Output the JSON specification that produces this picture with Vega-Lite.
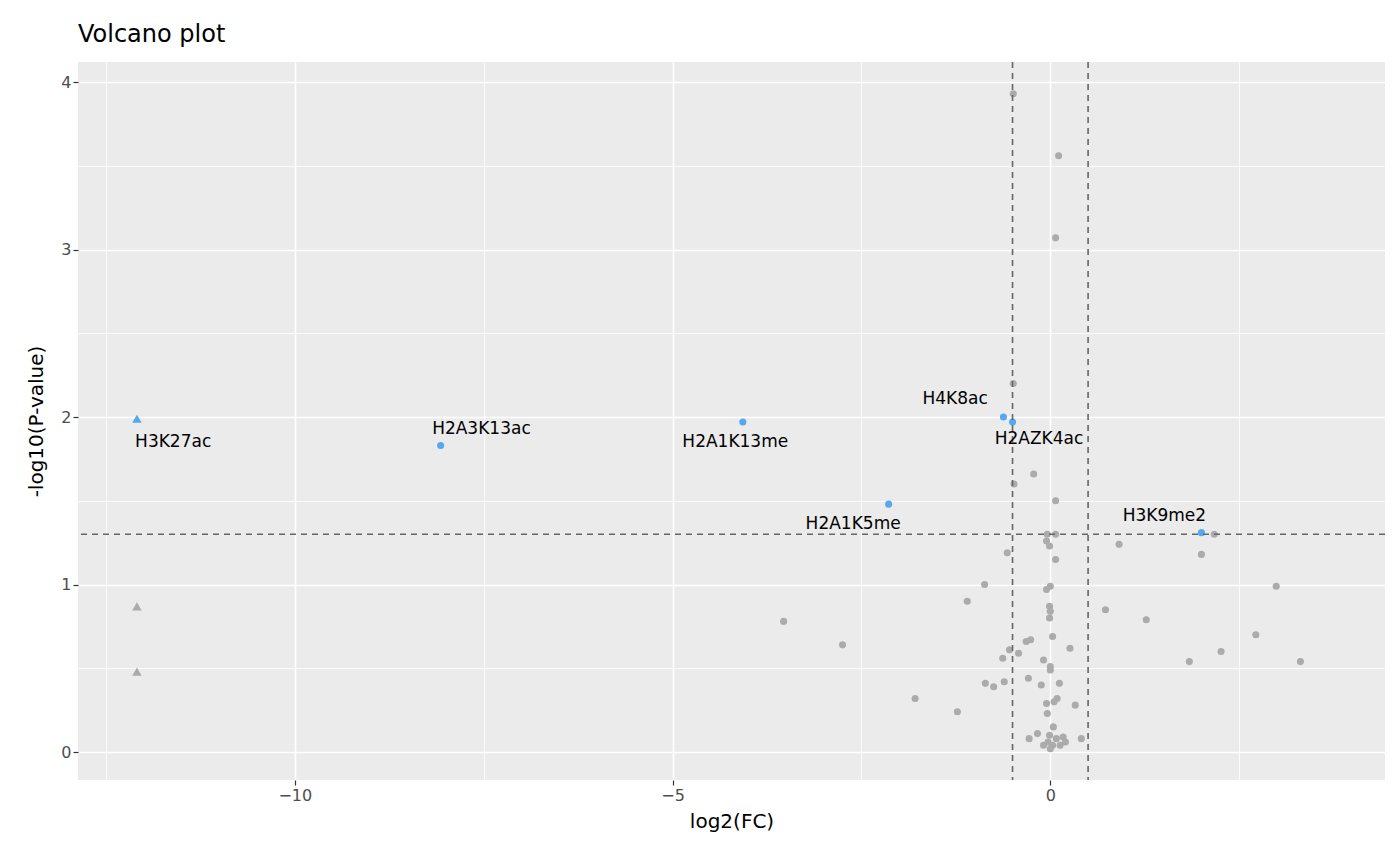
{
  "$schema": "https://vega.github.io/schema/vega-lite/v6.json",
  "width": 1307,
  "height": 718,
  "autosize": {"type": "none"},
  "padding": {"left": 78, "top": 62, "right": 15, "bottom": 85},
  "background": "white",
  "title": {"text": "Volcano plot", "anchor": "start", "frame": "group", "fontSize": 24, "fontWeight": "normal", "font": "DejaVu Sans", "color": "black", "offset": 14},
  "config": {
    "view": {"fill": "#EBEBEB", "stroke": null},
    "axis": {"labelFont": "DejaVu Sans", "titleFont": "DejaVu Sans", "labelFontSize": 16, "labelColor": "#4D4D4D", "titleFontSize": 20, "titleFontWeight": "normal", "titleColor": "black", "domain": false, "tickColor": "#333333", "tickSize": 5, "tickWidth": 1.2, "gridColor": "white"}
  },
  "datasets": {
    "pts": [
      {"x": -12.09, "y": 1.99, "name": "H3K27ac", "sig": "yes", "clip": "yes"},
      {"x": -8.07, "y": 1.83, "name": "H2A3K13ac", "sig": "yes", "clip": "no"},
      {"x": -4.07, "y": 1.97, "name": "H2A1K13me", "sig": "yes", "clip": "no"},
      {"x": -0.62, "y": 2.0, "name": "H4K8ac", "sig": "yes", "clip": "no"},
      {"x": -0.5, "y": 1.97, "name": "H2AZK4ac", "sig": "yes", "clip": "no"},
      {"x": -2.14, "y": 1.48, "name": "H2A1K5me", "sig": "yes", "clip": "no"},
      {"x": 2.0, "y": 1.31, "name": "H3K9me2", "sig": "yes", "clip": "no"},
      {"x": -12.09, "y": 0.87, "sig": "no", "clip": "yes"},
      {"x": -12.09, "y": 0.48, "sig": "no", "clip": "yes"},
      {"x": -0.49, "y": 3.93, "sig": "no", "clip": "no"},
      {"x": 0.11, "y": 3.56, "sig": "no", "clip": "no"},
      {"x": 0.07, "y": 3.07, "sig": "no", "clip": "no"},
      {"x": -0.49, "y": 2.2, "sig": "no", "clip": "no"},
      {"x": -0.22, "y": 1.66, "sig": "no", "clip": "no"},
      {"x": -0.48, "y": 1.6, "sig": "no", "clip": "no"},
      {"x": 0.07, "y": 1.5, "sig": "no", "clip": "no"},
      {"x": 0.07, "y": 1.3, "sig": "no", "clip": "no"},
      {"x": -0.04, "y": 1.3, "sig": "no", "clip": "no"},
      {"x": -0.01, "y": 1.23, "sig": "no", "clip": "no"},
      {"x": -0.05, "y": 1.26, "sig": "no", "clip": "no"},
      {"x": 0.07, "y": 1.15, "sig": "no", "clip": "no"},
      {"x": -0.57, "y": 1.19, "sig": "no", "clip": "no"},
      {"x": 0.91, "y": 1.24, "sig": "no", "clip": "no"},
      {"x": 2.17, "y": 1.3, "sig": "no", "clip": "no"},
      {"x": 2.0, "y": 1.18, "sig": "no", "clip": "no"},
      {"x": 2.99, "y": 0.99, "sig": "no", "clip": "no"},
      {"x": -0.87, "y": 1.0, "sig": "no", "clip": "no"},
      {"x": 0.0, "y": 0.99, "sig": "no", "clip": "no"},
      {"x": -0.05, "y": 0.97, "sig": "no", "clip": "no"},
      {"x": -1.1, "y": 0.9, "sig": "no", "clip": "no"},
      {"x": -0.01, "y": 0.87, "sig": "no", "clip": "no"},
      {"x": 0.0, "y": 0.84, "sig": "no", "clip": "no"},
      {"x": -0.01, "y": 0.8, "sig": "no", "clip": "no"},
      {"x": 0.73, "y": 0.85, "sig": "no", "clip": "no"},
      {"x": 1.27, "y": 0.79, "sig": "no", "clip": "no"},
      {"x": -3.53, "y": 0.78, "sig": "no", "clip": "no"},
      {"x": 2.72, "y": 0.7, "sig": "no", "clip": "no"},
      {"x": 0.03, "y": 0.69, "sig": "no", "clip": "no"},
      {"x": -2.75, "y": 0.64, "sig": "no", "clip": "no"},
      {"x": -0.26, "y": 0.67, "sig": "no", "clip": "no"},
      {"x": -0.32, "y": 0.66, "sig": "no", "clip": "no"},
      {"x": 0.26, "y": 0.62, "sig": "no", "clip": "no"},
      {"x": -0.54, "y": 0.61, "sig": "no", "clip": "no"},
      {"x": -0.42, "y": 0.59, "sig": "no", "clip": "no"},
      {"x": -0.63, "y": 0.56, "sig": "no", "clip": "no"},
      {"x": -0.09, "y": 0.55, "sig": "no", "clip": "no"},
      {"x": 2.26, "y": 0.6, "sig": "no", "clip": "no"},
      {"x": 1.84, "y": 0.54, "sig": "no", "clip": "no"},
      {"x": 3.31, "y": 0.54, "sig": "no", "clip": "no"},
      {"x": 0.0, "y": 0.51, "sig": "no", "clip": "no"},
      {"x": 0.0, "y": 0.49, "sig": "no", "clip": "no"},
      {"x": -0.29, "y": 0.44, "sig": "no", "clip": "no"},
      {"x": -0.61, "y": 0.42, "sig": "no", "clip": "no"},
      {"x": -0.86, "y": 0.41, "sig": "no", "clip": "no"},
      {"x": -0.75, "y": 0.39, "sig": "no", "clip": "no"},
      {"x": -0.12, "y": 0.4, "sig": "no", "clip": "no"},
      {"x": 0.12, "y": 0.41, "sig": "no", "clip": "no"},
      {"x": 0.09, "y": 0.32, "sig": "no", "clip": "no"},
      {"x": 0.05, "y": 0.3, "sig": "no", "clip": "no"},
      {"x": -0.05, "y": 0.29, "sig": "no", "clip": "no"},
      {"x": 0.33, "y": 0.28, "sig": "no", "clip": "no"},
      {"x": -1.79, "y": 0.32, "sig": "no", "clip": "no"},
      {"x": -1.23, "y": 0.24, "sig": "no", "clip": "no"},
      {"x": -0.04, "y": 0.23, "sig": "no", "clip": "no"},
      {"x": 0.04, "y": 0.15, "sig": "no", "clip": "no"},
      {"x": -0.17, "y": 0.11, "sig": "no", "clip": "no"},
      {"x": -0.01, "y": 0.1, "sig": "no", "clip": "no"},
      {"x": 0.08, "y": 0.08, "sig": "no", "clip": "no"},
      {"x": 0.17, "y": 0.09, "sig": "no", "clip": "no"},
      {"x": -0.28, "y": 0.08, "sig": "no", "clip": "no"},
      {"x": 0.41, "y": 0.08, "sig": "no", "clip": "no"},
      {"x": -0.03, "y": 0.06, "sig": "no", "clip": "no"},
      {"x": 0.2, "y": 0.06, "sig": "no", "clip": "no"},
      {"x": -0.09, "y": 0.04, "sig": "no", "clip": "no"},
      {"x": 0.03, "y": 0.04, "sig": "no", "clip": "no"},
      {"x": 0.13, "y": 0.04, "sig": "no", "clip": "no"},
      {"x": 0.0, "y": 0.02, "sig": "no", "clip": "no"}
    ],
    "labels": [
      {"lx": -11.61, "ly": 1.85, "name": "H3K27ac"},
      {"lx": -7.53, "ly": 1.93, "name": "H2A3K13ac"},
      {"lx": -4.17, "ly": 1.85, "name": "H2A1K13me"},
      {"lx": -1.26, "ly": 2.11, "name": "H4K8ac"},
      {"lx": -0.15, "ly": 1.87, "name": "H2AZK4ac"},
      {"lx": -2.61, "ly": 1.36, "name": "H2A1K5me"},
      {"lx": 1.51, "ly": 1.41, "name": "H3K9me2"}
    ],
    "vlines": [{"v": -0.5}, {"v": 0.5}],
    "hlines": [{"h": 1.3}]
  },
  "layer": [
    {
      "data": {"name": "pts"},
      "mark": {"type": "point", "filled": true, "opacity": 1, "size": 50},
      "encoding": {
        "x": {"field": "x", "type": "quantitative", "title": "log2(FC)",
          "scale": {"domain": [-12.87, 4.43], "nice": false, "zero": false},
          "axis": {"values": [-12.5, -10, -7.5, -5, -2.5, 0, 2.5],
            "labelExpr": "datum.value % 5 === 0 ? format(datum.value, 'd') : ''",
            "tickOpacity": {"condition": {"test": "datum.value % 5 === 0", "value": 1}, "value": 0},
            "gridWidth": {"condition": {"test": "datum.value % 5 === 0", "value": 1.6}, "value": 0.8},
            "titlePadding": 8}},
        "y": {"field": "y", "type": "quantitative", "title": "-log10(P-value)",
          "scale": {"domain": [-0.167, 4.12], "nice": false, "zero": false},
          "axis": {"values": [0, 0.5, 1, 1.5, 2, 2.5, 3, 3.5, 4],
            "labelExpr": "datum.value % 1 === 0 ? format(datum.value, 'd') : ''",
            "tickOpacity": {"condition": {"test": "datum.value % 1 === 0", "value": 1}, "value": 0},
            "gridWidth": {"condition": {"test": "datum.value % 1 === 0", "value": 1.6}, "value": 0.8},
            "titlePadding": 14}},
        "color": {"field": "sig", "type": "nominal", "legend": null,
          "scale": {"domain": ["yes", "no"], "range": ["#56A8EE", "#ABABAB"]}},
        "shape": {"field": "clip", "type": "nominal", "legend": null,
          "scale": {"domain": ["no", "yes"], "range": ["circle", "triangle-up"]}},
        "size": {"field": "clip", "type": "nominal", "legend": null,
          "scale": {"domain": ["no", "yes"], "range": [50, 90]}}
      }
    },
    {
      "data": {"name": "vlines"},
      "mark": {"type": "rule", "strokeDash": [6, 5], "color": "#666666", "strokeWidth": 1.6},
      "encoding": {"x": {"field": "v", "type": "quantitative"}}
    },
    {
      "data": {"name": "hlines"},
      "mark": {"type": "rule", "strokeDash": [6, 5], "color": "#666666", "strokeWidth": 1.6},
      "encoding": {"y": {"field": "h", "type": "quantitative"}}
    },
    {
      "data": {"name": "labels"},
      "mark": {"type": "text", "font": "DejaVu Sans", "fontSize": 17, "color": "black"},
      "encoding": {
        "x": {"field": "lx", "type": "quantitative"},
        "y": {"field": "ly", "type": "quantitative"},
        "text": {"field": "name"}
      }
    }
  ]
}
